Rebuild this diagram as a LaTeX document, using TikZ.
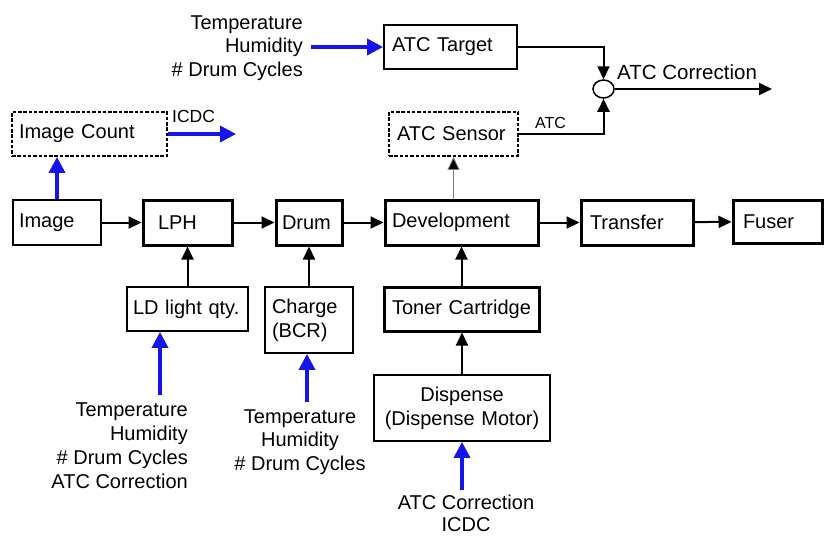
\documentclass[tikz,border=0pt]{standalone}
\usepackage{fontspec}
\setmainfont{Liberation Sans}
\usetikzlibrary{arrows.meta,shapes.geometric}
\definecolor{arrblue}{RGB}{20,20,235}
\begin{document}
\begin{tikzpicture}[x=1pt,y=-1pt,
  font=\fontsize{20}{24}\selectfont,
  thinbox/.style={draw, line width=1.8pt, inner ysep=0pt, align=left},
  thickbox/.style={draw, line width=3pt, inner ysep=0pt, align=left},
  dashbox/.style={draw, line width=1.8pt, dash pattern=on 3.5pt off 1.8pt, inner ysep=0pt, align=left},
  txt/.style={inner sep=0pt},
  arr/.style={line width=2pt, -{Triangle[length=13pt,width=12pt]}},
  barr/.style={draw=arrblue, line width=3.5pt, -{Triangle[length=16pt,width=16pt]}},
  garr/.style={draw=gray, line width=0.8pt, -{Triangle[length=13pt,width=12pt,fill=black]}}
]
\useasboundingbox (0,0) rectangle (824,536);

% main row
\node[thinbox, minimum height=45pt, text width=76pt, inner xsep=6pt] (image) at (57,222.5) {Image};
\node[thickbox, minimum height=45pt, text width=59pt, inner xsep=15pt] (lph) at (187.5,222.5) {LPH};
\node[thickbox, minimum height=45pt, text width=54pt, inner xsep=6pt] (drum) at (309,222.5) {Drum};
\node[thickbox, minimum height=45pt, text width=139pt, inner xsep=7pt] (dev) at (461.5,222.5) {Development};
\node[thickbox, minimum height=45pt, text width=94pt, inner xsep=9pt] (transfer) at (637,222.5) {Transfer};
\node[thickbox, minimum height=43pt, text width=69pt, inner xsep=10pt] (fuser) at (777.5,221.5) {Fuser};

% upper row
\node[dashbox, minimum height=44pt, text width=141pt, inner xsep=7pt] (icount) at (89.5,134) {Image Count};
\node[dashbox, minimum height=44pt, text width=113pt, inner xsep=8pt] (sensor) at (453.5,134) {ATC Sensor};
\node[thinbox, minimum height=44pt, text width=117pt, inner xsep=8pt] (target) at (450.5,47) {ATC Target};
\node[draw, ellipse, line width=1.5pt, minimum width=21pt, minimum height=18pt, inner sep=0pt] (sum) at (603.5,89) {};

% lower row
\node[thinbox, minimum height=44pt, text width=109pt, inner xsep=6pt] (ld) at (187.5,309) {LD light qty.};
\node[thinbox, minimum height=66pt, text width=74pt, inner xsep=7pt] (charge) at (309,320) {Charge\\(BCR)};
\node[thickbox, minimum height=44pt, text width=145pt, inner xsep=5pt, align=center] (toner) at (461.5,309) {Toner Cartridge};
\node[thinbox, minimum height=66pt, text width=166pt, inner xsep=5pt, align=center] (disp) at (462,408) {Dispense\\(Dispense Motor)};

% free text
\node[txt, anchor=east, align=right, font=\fontsize{20}{23.5}\selectfont] (topin) at (303,48) {Temperature\\Humidity\\\# Drum Cycles};
\node[txt, anchor=east, align=right] (ldin) at (188,446) {Temperature\\Humidity\\\# Drum Cycles\\ATC Correction};
\node[txt, align=center, font=\fontsize{20}{23.5}\selectfont] (chin) at (300,442) {Temperature\\Humidity\\\# Drum Cycles};
\node[txt, align=center, font=\fontsize{20}{22}\selectfont] (dispin) at (466,513) {ATC Correction\\ICDC};
\node[txt, anchor=west, font=\fontsize{17.5}{20}\selectfont] (icdclbl) at (172,116) {ICDC};
\node[txt, anchor=west, font=\fontsize{16}{19}\selectfont] (atclbl) at (535,123) {ATC};
\node[txt, anchor=west, font=\fontsize{20.5}{24}\selectfont] (corrlbl) at (617,72) {ATC Correction};

% free ends
\coordinate (icdcend) at (236,134);
\coordinate (topstart) at (311,47);
\coordinate (corrend) at (772,89);
\coordinate (ldstart) at (160,395);
\coordinate (chstart) at (307,402);
\coordinate (dispstart) at (462,490);

% black connectors
\draw[arr] (image) -- (lph);
\draw[arr] (lph) -- (drum);
\draw[arr] (drum) -- (dev);
\draw[arr] (dev) -- (transfer);
\draw[arr] (transfer) -- (fuser);
\draw[arr] (ld.north) -- (lph.south);
\draw[arr] (charge.north) -- (drum.south);
\draw[arr] (toner.north) -- (dev.south);
\draw[arr] (disp.north) -- (disp.north |- toner.south);
\draw[arr] (target.east) -| (sum.north);
\draw[arr] (sensor.east) -| (sum.south);
\draw[arr] (sum.east) -- (corrend);
\draw[garr] (sensor.south |- dev.north) -- (sensor.south);

% blue connectors
\draw[barr] (image.north) -- (image.north |- icount.south);
\draw[barr] (icount.east) -- (icdcend);
\draw[barr] (topstart) -- (target.west);
\draw[barr] (ldstart) -- (ldstart |- ld.south);
\draw[barr] (chstart) -- (chstart |- charge.south);
\draw[barr] (dispstart) -- (disp.south);
\end{tikzpicture}
\end{document}
